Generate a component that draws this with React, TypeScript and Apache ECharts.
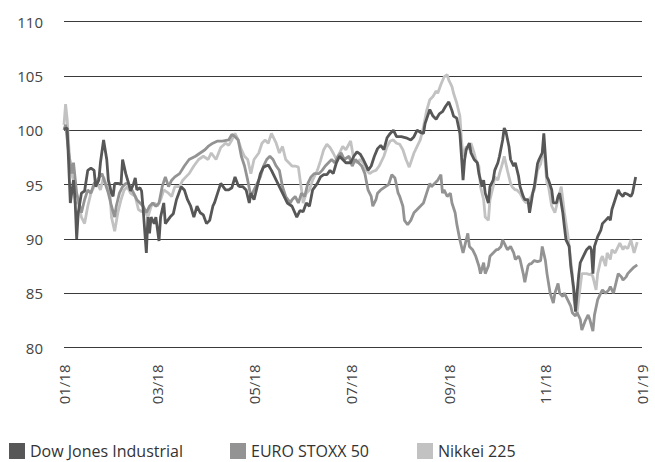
import React, { useEffect, useRef } from "react";
import * as echarts from "echarts";

// x positions are day offsets from 2018-01-01
const tickDays = [0, 59, 120, 181, 243, 304, 365];
const tickLabels = ["01/18", "03/18", "05/18", "07/18", "09/18", "11/18", "01/19"];
const seriesNames = ["Dow Jones Industrial", "EURO STOXX 50", "Nikkei 225"];

const dowDays = [0, 2, 4, 6, 7, 8, 9, 11, 13, 15, 17, 19, 20, 22, 23, 25, 27, 28, 30, 31, 32, 34, 36, 37, 39, 41, 42, 44, 45, 46, 48, 49, 50, 52, 53, 54, 55, 57, 58, 60, 61, 63, 64, 67, 69, 71, 74, 76, 78, 80, 82, 84, 86, 88, 90, 92, 94, 95, 97, 99, 102, 104, 106, 108, 110, 111, 113, 115, 117, 118, 120, 122, 124, 126, 129, 131, 134, 137, 139, 141, 144, 147, 149, 151, 153, 155, 157, 160, 162, 164, 166, 168, 170, 172, 174, 176, 178, 181, 183, 185, 187, 189, 191, 192, 194, 196, 198, 200, 202, 204, 206, 208, 210, 213, 216, 219, 221, 223, 225, 227, 228, 231, 233, 235, 237, 239, 241, 243, 245, 246, 248, 250, 251, 252, 253, 254, 256, 257, 259, 261, 262, 264, 265, 266, 268, 269, 271, 272, 274, 275, 277, 278, 279, 281, 282, 284, 285, 287, 288, 290, 291, 293, 294, 296, 297, 299, 300, 302, 303, 304, 305, 306, 308, 309, 311, 312, 313, 315, 316, 317, 319, 320, 322, 323, 324, 325, 326, 328, 330, 332, 333, 334, 335, 337, 339, 340, 342, 344, 345, 346, 348, 350, 351, 353, 354, 356, 358, 359, 361];
const dowValues = [100.1, 100.2, 93.3, 95.4, 93.6, 90.0, 92.4, 94.2, 94.4, 96.3, 96.5, 96.3, 94.8, 95.4, 97.0, 99.1, 97.3, 95.4, 94.2, 93.9, 95.1, 95.1, 95.0, 97.3, 96.0, 95.0, 94.4, 95.1, 95.6, 94.5, 94.7, 94.4, 92.7, 88.7, 92.0, 90.5, 92.0, 91.4, 92.0, 89.8, 92.0, 93.3, 91.4, 92.0, 92.3, 93.6, 94.8, 94.5, 93.6, 93.0, 92.0, 93.0, 92.4, 92.2, 91.4, 91.7, 93.0, 93.3, 94.2, 95.1, 94.5, 94.5, 94.7, 95.7, 94.9, 94.8, 94.8, 94.5, 93.3, 94.2, 93.6, 94.8, 96.0, 96.6, 96.8, 96.3, 95.4, 94.5, 93.9, 93.3, 93.0, 92.0, 92.6, 92.5, 93.3, 93.0, 94.5, 95.1, 95.7, 95.9, 95.9, 96.3, 96.0, 97.0, 97.6, 97.3, 97.0, 97.0, 97.6, 98.0, 97.8, 97.3, 96.7, 96.3, 96.7, 97.6, 98.3, 98.6, 98.2, 99.3, 99.7, 100.0, 99.4, 99.4, 99.3, 99.1, 99.4, 100.0, 99.8, 99.7, 100.6, 101.9, 101.3, 101.0, 101.5, 101.7, 102.2, 102.6, 101.8, 101.3, 101.1, 99.7, 97.6, 95.4, 97.3, 98.2, 98.8, 97.9, 97.3, 97.0, 96.0, 94.8, 95.4, 94.2, 93.3, 94.8, 95.4, 96.3, 97.0, 97.6, 99.1, 100.2, 99.9, 98.5, 97.3, 96.7, 97.0, 95.8, 94.8, 93.9, 93.6, 93.6, 92.4, 94.2, 94.8, 96.9, 97.3, 97.9, 99.7, 97.6, 95.7, 95.4, 94.5, 93.3, 93.3, 93.9, 94.2, 92.4, 91.1, 89.9, 89.3, 87.5, 85.3, 83.3, 85.0, 86.6, 87.8, 88.4, 89.0, 89.3, 89.0, 86.8, 89.3, 90.2, 90.8, 91.4, 91.7, 92.0, 91.7, 92.7, 93.6, 94.5, 94.2, 93.9, 94.2, 94.1, 93.9, 94.2, 95.7];

const euroDays = [0, 1, 3, 5, 6, 8, 10, 11, 13, 15, 17, 19, 21, 24, 26, 28, 30, 32, 33, 35, 37, 39, 41, 44, 46, 48, 50, 52, 54, 56, 58, 60, 62, 64, 66, 68, 70, 73, 76, 79, 83, 86, 89, 91, 94, 97, 100, 104, 106, 108, 110, 112, 114, 116, 118, 119, 122, 124, 126, 128, 130, 132, 134, 136, 138, 140, 143, 144, 146, 148, 150, 152, 154, 156, 158, 161, 163, 165, 167, 169, 171, 173, 175, 177, 180, 182, 184, 186, 188, 190, 192, 194, 195, 197, 198, 200, 203, 205, 207, 209, 211, 212, 214, 215, 217, 219, 221, 223, 225, 227, 229, 231, 232, 234, 236, 238, 239, 240, 242, 244, 245, 247, 248, 250, 252, 253, 255, 256, 258, 260, 262, 263, 265, 266, 268, 269, 271, 273, 274, 276, 277, 279, 280, 282, 284, 285, 287, 288, 290, 291, 293, 294, 295, 297, 299, 301, 302, 304, 305, 307, 309, 310, 312, 313, 315, 316, 318, 320, 321, 323, 324, 326, 327, 329, 331, 332, 334, 335, 337, 339, 340, 342, 344, 345, 347, 348, 350, 352, 353, 355, 356, 358, 360, 362];
const euroValues = [100.0, 100.5, 97.9, 96.0, 97.0, 94.2, 93.0, 92.4, 93.6, 94.5, 94.2, 95.1, 95.4, 96.0, 95.1, 94.2, 93.0, 92.0, 93.0, 94.2, 94.8, 95.1, 95.0, 94.2, 93.6, 93.3, 93.0, 92.4, 93.0, 93.3, 93.0, 93.3, 94.8, 95.7, 94.8, 95.4, 95.7, 96.0, 96.7, 97.3, 97.6, 97.9, 98.2, 98.5, 98.8, 99.0, 99.0, 99.1, 99.6, 99.4, 99.1, 97.6, 96.7, 95.4, 93.9, 94.2, 95.1, 95.7, 96.7, 97.3, 97.6, 97.3, 96.7, 96.3, 94.8, 93.9, 93.3, 93.6, 93.9, 93.3, 94.2, 93.9, 95.1, 95.7, 96.0, 96.0, 96.3, 96.7, 97.0, 97.3, 97.0, 97.6, 97.9, 97.3, 97.6, 96.7, 97.3, 97.0, 96.7, 96.0, 94.5, 93.9, 93.0, 93.6, 94.2, 94.5, 94.8, 95.0, 95.9, 95.6, 94.2, 93.9, 93.0, 91.7, 91.3, 91.7, 92.4, 92.7, 93.0, 93.3, 94.2, 95.1, 94.8, 95.1, 95.4, 95.9, 94.2, 94.5, 93.9, 94.2, 93.3, 92.4, 91.4, 89.9, 88.7, 89.3, 90.5, 89.3, 89.0, 88.4, 87.5, 86.8, 87.8, 86.8, 87.5, 88.4, 88.7, 89.0, 89.0, 89.3, 89.9, 89.3, 89.0, 89.3, 88.7, 88.1, 88.4, 88.1, 86.8, 86.0, 87.5, 87.7, 87.7, 88.0, 87.9, 88.0, 89.3, 88.0, 86.8, 85.0, 84.1, 85.0, 85.9, 85.0, 84.7, 85.0, 84.4, 83.8, 83.2, 82.9, 83.2, 82.6, 81.6, 82.4, 83.0, 82.6, 81.5, 83.0, 84.4, 85.0, 85.3, 85.0, 85.3, 85.6, 85.0, 85.6, 86.8, 86.5, 86.2, 86.5, 86.8, 87.1, 87.4, 87.6];

const nikkeiDays = [0, 1, 2, 4, 6, 7, 9, 11, 13, 15, 17, 19, 21, 23, 25, 27, 29, 30, 32, 34, 36, 38, 40, 42, 45, 47, 49, 51, 53, 55, 57, 59, 61, 63, 66, 68, 70, 73, 75, 77, 79, 82, 85, 88, 91, 93, 96, 99, 102, 104, 106, 108, 110, 112, 114, 116, 118, 120, 123, 125, 127, 129, 131, 134, 136, 138, 140, 142, 144, 146, 148, 150, 151, 153, 155, 157, 160, 162, 164, 166, 168, 170, 172, 174, 176, 178, 181, 183, 185, 187, 189, 191, 193, 195, 197, 199, 202, 204, 206, 208, 210, 212, 214, 216, 218, 221, 223, 225, 227, 229, 231, 233, 235, 236, 238, 240, 242, 243, 245, 246, 248, 250, 251, 252, 254, 255, 257, 259, 260, 262, 263, 265, 266, 268, 269, 271, 272, 274, 275, 277, 278, 280, 282, 283, 285, 286, 288, 290, 292, 295, 297, 299, 301, 303, 304, 305, 306, 308, 310, 311, 313, 314, 315, 316, 318, 319, 321, 322, 324, 325, 327, 329, 330, 332, 333, 334, 336, 337, 339, 340, 342, 343, 345, 346, 348, 350, 351, 353, 354, 356, 358, 359, 360, 362];
const nikkeiValues = [100.5, 102.4, 101.0, 96.3, 95.4, 93.3, 93.3, 92.0, 91.4, 93.0, 94.2, 94.8, 95.1, 94.5, 95.7, 94.8, 94.2, 92.0, 90.7, 92.4, 93.6, 94.5, 94.8, 94.2, 93.9, 92.7, 92.5, 92.5, 92.0, 93.0, 93.3, 93.0, 93.6, 94.5, 94.2, 93.9, 94.8, 94.8, 95.4, 95.7, 96.0, 96.7, 97.3, 97.6, 97.3, 97.9, 97.3, 98.4, 98.8, 98.6, 99.1, 99.7, 99.1, 98.2, 97.6, 97.3, 96.0, 97.3, 97.9, 98.8, 99.1, 98.8, 99.7, 98.8, 97.9, 98.5, 97.3, 97.0, 96.7, 96.7, 96.6, 94.5, 93.3, 94.2, 94.5, 95.4, 96.3, 97.2, 98.2, 98.7, 98.4, 97.9, 97.3, 97.9, 98.5, 98.2, 99.0, 97.3, 97.0, 97.3, 97.0, 96.3, 96.0, 96.2, 96.3, 96.7, 97.6, 98.5, 99.0, 99.1, 98.8, 98.7, 98.2, 97.3, 96.6, 97.9, 98.5, 99.1, 100.3, 101.8, 102.8, 103.1, 103.6, 103.4, 104.2, 104.9, 105.1, 104.6, 104.0, 103.4, 102.5, 101.3, 99.1, 97.6, 98.5, 98.2, 98.8, 97.9, 97.3, 96.7, 94.8, 93.6, 92.0, 91.7, 93.6, 94.8, 95.7, 95.4, 96.0, 97.0, 97.6, 96.3, 95.1, 94.8, 94.5, 94.5, 94.2, 93.6, 93.3, 93.9, 94.5, 96.3, 96.9, 98.5, 96.7, 95.1, 94.8, 93.0, 92.4, 93.0, 94.2, 94.8, 93.6, 92.4, 90.5, 89.3, 86.8, 84.4, 83.2, 84.4, 86.8, 86.8, 86.8, 86.7, 86.8, 86.5, 85.3, 86.8, 88.1, 88.4, 87.5, 88.7, 88.1, 89.0, 88.7, 89.3, 89.6, 89.0, 89.3, 89.1, 89.9, 89.3, 88.7, 89.7];

const pairs = (days: number[], vals: number[]) => days.map((d, i) => [d, vals[i]]);

const FONT = "'Open Sans', 'DejaVu Sans', sans-serif";
const legendLefts = [9, 230, 417];

export default function App() {
  const ref = useRef<HTMLDivElement>(null);
  useEffect(() => {
    if (!ref.current) return;
    const chart = echarts.init(ref.current, null, { renderer: "svg" });
    chart.setOption({
      animation: false,
      textStyle: { fontFamily: FONT },
      grid: { left: 64, right: 13, top: 21.5, bottom: 114.5 },
      legend: seriesNames.map((name, i) => ({
        data: [name],
        left: legendLefts[i],
        top: 443,
        padding: 0,
        icon: "rect",
        itemWidth: 16,
        itemHeight: 16,
        itemGap: 0,
        textStyle: { fontSize: 16, lineHeight: 16, color: "#333", fontFamily: FONT },
      })),
      xAxis: {
        type: "value",
        min: 0,
        max: 365,
        axisLine: { show: false },
        axisTick: { show: false },
        splitLine: { show: false },
        axisLabel: {
          customValues: tickDays,
          rotate: 90,
          margin: 17,
          fontSize: 15,
          color: "#444",
          fontFamily: FONT,
          formatter: (v: number) => {
            const i = tickDays.indexOf(Math.round(v));
            return i >= 0 ? tickLabels[i] : "";
          },
        },
      },
      yAxis: {
        type: "value",
        min: 80,
        max: 110,
        interval: 5,
        axisLine: { show: false },
        axisTick: { show: false },
        axisLabel: { fontSize: 15, color: "#444", margin: 21, fontFamily: FONT },
        splitLine: { lineStyle: { color: "#3a3a3a", width: 1 } },
      },
      series: [
        {
          name: seriesNames[2],
          type: "line",
          data: pairs(nikkeiDays, nikkeiValues),
          showSymbol: false,
          symbol: "none",
          color: "#c2c2c2",
          lineStyle: { width: 2.8, color: "#c2c2c2" },
        },
        {
          name: seriesNames[1],
          type: "line",
          data: pairs(euroDays, euroValues),
          showSymbol: false,
          symbol: "none",
          color: "#939393",
          lineStyle: { width: 2.8, color: "#939393" },
        },
        {
          name: seriesNames[0],
          type: "line",
          data: pairs(dowDays, dowValues),
          showSymbol: false,
          symbol: "none",
          color: "#575757",
          lineStyle: { width: 2.8, color: "#575757" },
        },
      ],
    });
    return () => chart.dispose();
  }, []);
  return <div ref={ref} style={{ width: 655, height: 462, position: "absolute", left: 0, top: 0 }} />;
}
